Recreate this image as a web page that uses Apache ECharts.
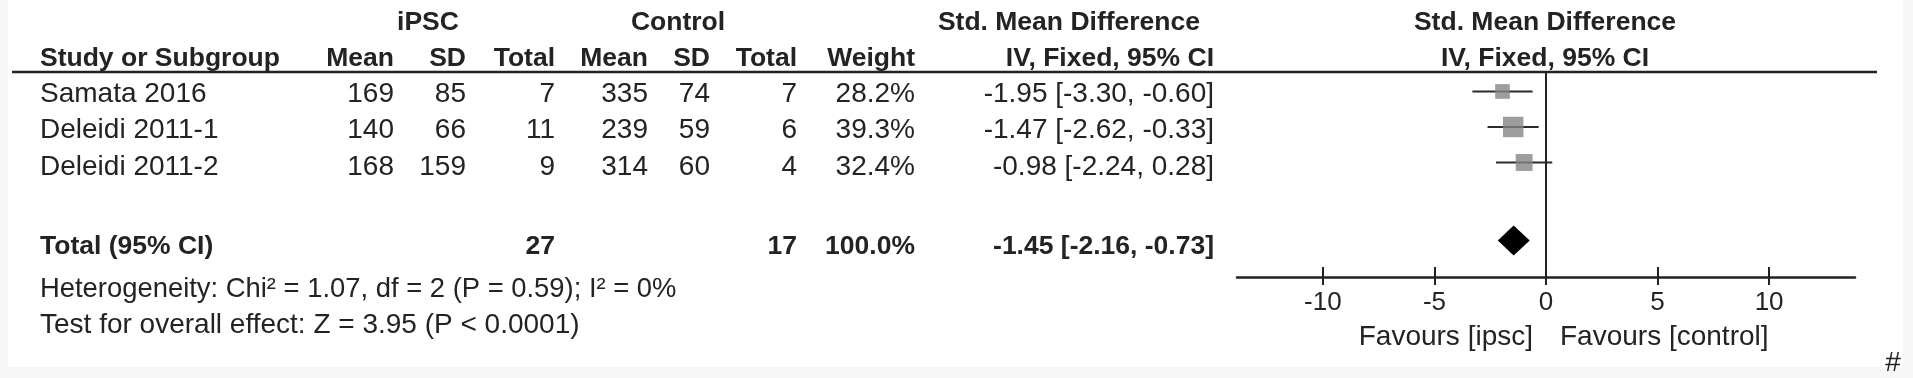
<!DOCTYPE html>
<html>
<head>
<meta charset="utf-8">
<title>Forest plot</title>
<script src="https://cdn.jsdelivr.net/npm/echarts@6/dist/echarts.min.js"></script>
<style>
  html, body { margin: 0; padding: 0; background: #f7f7f7; }
  #chart { width: 1913px; height: 378px; }
</style>
</head>
<body>
<div id="chart"></div>
<script>
  // study data
  var studies = ['Samata 2016', 'Deleidi 2011-1', 'Deleidi 2011-2'];
  var ipscMean = [169, 140, 168];
  var ipscSD = [85, 66, 159];
  var ipscTotal = [7, 11, 9];
  var ctrlMean = [335, 239, 314];
  var ctrlSD = [74, 59, 60];
  var ctrlTotal = [7, 6, 4];
  var weights = [28.2, 39.3, 32.4];
  var smd = [-1.95, -1.47, -0.98];
  var ciLow = [-3.30, -2.62, -2.24];
  var ciHigh = [-0.60, -0.33, 0.28];

  // pooled
  var totalIpsc = 27;
  var totalCtrl = 17;
  var totalWeight = 100.0;
  var totalSmd = -1.45;
  var totalLow = -2.16;
  var totalHigh = -0.73;
  var heterogeneityText = 'Heterogeneity: Chi\u00b2 = 1.07, df = 2 (P = 0.59); I\u00b2 = 0%';
  var overallText = 'Test for overall effect: Z = 3.95 (P < 0.0001)';

  // axis
  var tickValues = [-10, -5, 0, 5, 10];
  var axisMin = -13.85;
  var axisMax = 13.85;
  var studyRows = [1, 2, 3];
  var totalRow = 5.2;   // one blank row + a little gap before the total

  var FONT = '"Liberation Sans", Arial, sans-serif';
  var TXT = '#232323';

  function txt(x, y, s, align, bold, size) {
    return {
      type: 'text',
      silent: true,
      style: {
        x: x, y: y, text: s,
        font: (bold ? 'bold ' : '') + (size || 28) + 'px ' + FONT,
        fill: TXT,
        align: align || 'left', textAlign: align || 'left',
        verticalAlign: 'middle', textVerticalAlign: 'middle'
      }
    };
  }

  function ciStr(m, lo, hi) {
    return m.toFixed(2) + ' [' + lo.toFixed(2) + ', ' + hi.toFixed(2) + ']';
  }

  // column x (left edge for study, right edges for the rest)
  var colX = { study: 40, im: 394, isd: 466, it: 555, cm: 648, csd: 710, ct: 797, w: 915, ci: 1214 };
  var rowTextY = [94, 130, 167];
  var B = 26.5;

  var g = [];
  g.push({ type: 'rect', silent: true, z: -10, shape: { x: 8, y: 0, width: 1895, height: 367 }, style: { fill: '#fff' } });

  // header
  g.push(txt(428, 23, 'iPSC', 'center', true, B));
  g.push(txt(678, 23, 'Control', 'center', true, B));
  g.push(txt(1200, 23, 'Std. Mean Difference', 'right', true, B));
  g.push(txt(1545, 23, 'Std. Mean Difference', 'center', true, B));
  g.push(txt(colX.study, 59, 'Study or Subgroup', 'left', true, B));
  g.push(txt(colX.im, 59, 'Mean', 'right', true, B));
  g.push(txt(colX.isd, 59, 'SD', 'right', true, B));
  g.push(txt(colX.it, 59, 'Total', 'right', true, B));
  g.push(txt(colX.cm, 59, 'Mean', 'right', true, B));
  g.push(txt(colX.csd, 59, 'SD', 'right', true, B));
  g.push(txt(colX.ct, 59, 'Total', 'right', true, B));
  g.push(txt(colX.w, 59, 'Weight', 'right', true, B));
  g.push(txt(colX.ci, 59, 'IV, Fixed, 95% CI', 'right', true, B));
  g.push(txt(1545, 59, 'IV, Fixed, 95% CI', 'center', true, B));
  g.push({ type: 'line', silent: true, shape: { x1: 12, y1: 72, x2: 1877, y2: 72 }, style: { stroke: '#222', lineWidth: 2.5 } });

  // study rows
  studies.forEach(function (s, i) {
    var y = rowTextY[i];
    g.push(txt(colX.study, y, s, 'left'));
    g.push(txt(colX.im, y, String(ipscMean[i]), 'right'));
    g.push(txt(colX.isd, y, String(ipscSD[i]), 'right'));
    g.push(txt(colX.it, y, String(ipscTotal[i]), 'right'));
    g.push(txt(colX.cm, y, String(ctrlMean[i]), 'right'));
    g.push(txt(colX.csd, y, String(ctrlSD[i]), 'right'));
    g.push(txt(colX.ct, y, String(ctrlTotal[i]), 'right'));
    g.push(txt(colX.w, y, weights[i].toFixed(1) + '%', 'right'));
    g.push(txt(colX.ci, y, ciStr(smd[i], ciLow[i], ciHigh[i]), 'right'));
  });

  // total rows
  g.push(txt(colX.study, 247, 'Total (95% CI)', 'left', true, B));
  g.push(txt(colX.it, 247, String(totalIpsc), 'right', true, B));
  g.push(txt(colX.ct, 247, String(totalCtrl), 'right', true, B));
  g.push(txt(colX.w, 247, totalWeight.toFixed(1) + '%', 'right', true, B));
  g.push(txt(colX.ci, 247, ciStr(totalSmd, totalLow, totalHigh), 'right', true, B));
  g.push(txt(colX.study, 289, heterogeneityText, 'left', false, 27.4));
  g.push(txt(colX.study, 325, overallText, 'left'));

  // favours + corner mark
  g.push(txt(1533, 337, 'Favours [ipsc]', 'right'));
  g.push(txt(1560, 337, 'Favours [control]', 'left'));
  g.push(txt(1893, 363, '#', 'center'));

  var chart = echarts.init(document.getElementById('chart'));
  chart.setOption({
    backgroundColor: '#f7f7f7',
    animation: false,
    grid: { left: 1237, right: 58, top: 73, bottom: 101 },
    xAxis: [{
      type: 'value',
      min: axisMin,
      max: axisMax,
      position: 'bottom',
      axisLine: { show: true, lineStyle: { color: '#222', width: 2.5 } },
      axisTick: { show: true, inside: true, length: 10, customValues: tickValues, lineStyle: { color: '#222', width: 2 } },
      axisLabel: { show: true, customValues: tickValues, margin: 13, fontSize: 26, fontFamily: FONT, color: TXT },
      splitLine: { show: false }
    }, {
      type: 'value',
      min: axisMin,
      max: axisMax,
      position: 'bottom',
      axisLine: { show: false },
      axisTick: { show: true, inside: false, length: 8, customValues: tickValues, lineStyle: { color: '#222', width: 2 } },
      axisLabel: { show: false },
      splitLine: { show: false }
    }],
    yAxis: { type: 'value', inverse: true, min: 0.48, max: 6.225, show: false },
    series: [{
      type: 'custom',
      name: 'ci',
      silent: true,
      renderItem: function (params, api) {
        var a = api.coord([api.value(0), api.value(2)]);
        var b = api.coord([api.value(1), api.value(2)]);
        return {
          type: 'line',
          shape: { x1: a[0], y1: a[1], x2: b[0], y2: b[1] },
          style: { stroke: '#2b2b2b', lineWidth: 2 }
        };
      },
      encode: { x: [0, 1], y: 2 },
      data: studies.map(function (s, i) { return [ciLow[i], ciHigh[i], studyRows[i]]; }),
      z: 3
    }, {
      type: 'scatter',
      name: 'smd',
      silent: true,
      symbol: 'rect',
      symbolSize: function (v, p) { return weights[p.dataIndex] * 0.52; },
      itemStyle: { color: '#858585' },
      data: studies.map(function (s, i) { return [smd[i], studyRows[i]]; }),
      z: 4,
      markLine: {
        silent: true,
        symbol: ['none', 'none'],
        label: { show: false },
        lineStyle: { color: '#222', width: 2, type: 'solid' },
        data: [{ xAxis: 0 }]
      }
    }, {
      type: 'custom',
      name: 'total',
      silent: true,
      renderItem: function (params, api) {
        var y = api.value(3);
        var l = api.coord([api.value(1), y]);
        var c = api.coord([api.value(0), y]);
        var r = api.coord([api.value(2), y]);
        var h = 15;
        return {
          type: 'polygon',
          shape: { points: [[l[0], l[1]], [c[0], c[1] - h], [r[0], r[1]], [c[0], c[1] + h]] },
          style: { fill: '#000' }
        };
      },
      encode: { x: [0, 1, 2], y: 3 },
      data: [[totalSmd, totalLow, totalHigh, totalRow]],
      z: 4
    }],
    graphic: g
  });
</script>
</body>
</html>
